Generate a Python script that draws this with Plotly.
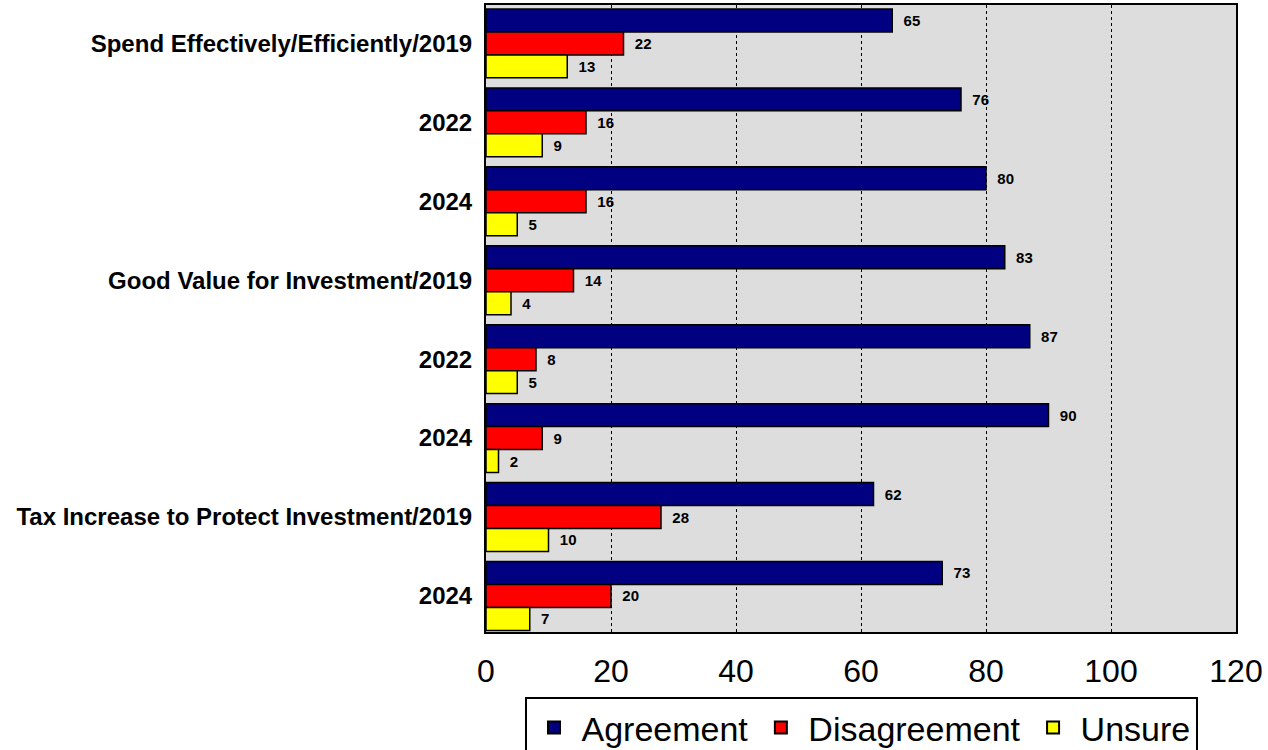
import plotly.graph_objects as go

categories = [
    "Spend Effectively/Efficiently/2019", "2022", "2024",
    "Good Value for Investment/2019", "2022", "2024",
    "Tax Increase to Protect Investment/2019", "2024",
]
agreement = [65, 76, 80, 83, 87, 90, 62, 73]
disagreement = [22, 16, 16, 14, 8, 9, 28, 20]
unsure = [13, 9, 5, 4, 5, 2, 10, 7]
x_ticks = [0, 20, 40, 60, 80, 100, 120]

series = [
    ("Agreement", agreement, "#000080"),
    ("Disagreement", disagreement, "#FF0000"),
    ("Unsure", unsure, "#FFFF00"),
]

ypos = list(range(len(categories)))
fig = go.Figure()
for name, vals, color in series:
    fig.add_trace(go.Bar(
        name=name, y=ypos, x=vals, orientation="h",
        marker=dict(color=color, line=dict(color="black", width=1.5)),
        text=vals, texttemplate="  %{x}", textposition="outside",
        textfont=dict(family="Liberation Sans, Arial", size=15, color="black", weight="bold"),
        cliponaxis=False,
    ))

g = 0.127
fig.update_layout(
    width=1268, height=750,
    barmode="group", bargap=g, bargroupgap=0,
    plot_bgcolor="#DDDDDD", paper_bgcolor="white",
    margin=dict(l=486, r=32, t=5, b=118, autoexpand=False),
    font=dict(family="Liberation Sans, Arial", color="black"),
    xaxis=dict(
        range=[0, 120], tickvals=x_ticks, ticks="",
        tickfont=dict(size=32, family="Liberation Sans, Arial"),
        showgrid=True, gridcolor="black", griddash="dot", gridwidth=1,
        showline=True, linecolor="black", linewidth=2, mirror=True,
        zeroline=False, ticklabelstandoff=10, automargin=False,
    ),
    yaxis=dict(
        tickvals=ypos, ticktext=categories,
        range=[len(categories) - 0.5 - g / 2 + 0.02, -0.5 + g / 2 - 0.05],
        tickfont=dict(size=24, family="Liberation Sans, Arial", weight="bold"),
        showline=True, linecolor="black", linewidth=2, mirror=True,
        showgrid=False, ticks="", ticklabelstandoff=7, automargin=False,
    ),
    legend=dict(
        orientation="h", x=0.5, xanchor="center", xref="paper",
        y=1 - 697 / 750, yanchor="top", yref="container",
        bordercolor="black", borderwidth=2,
        font=dict(size=34, family="Liberation Sans, Arial"),
        itemsizing="constant", traceorder="normal", itemwidth=45,
    ),
    showlegend=True,
)
fig.write_html("out.html", config={"displayModeBar": False},
               post_script="document.body.style.margin='0px';")
